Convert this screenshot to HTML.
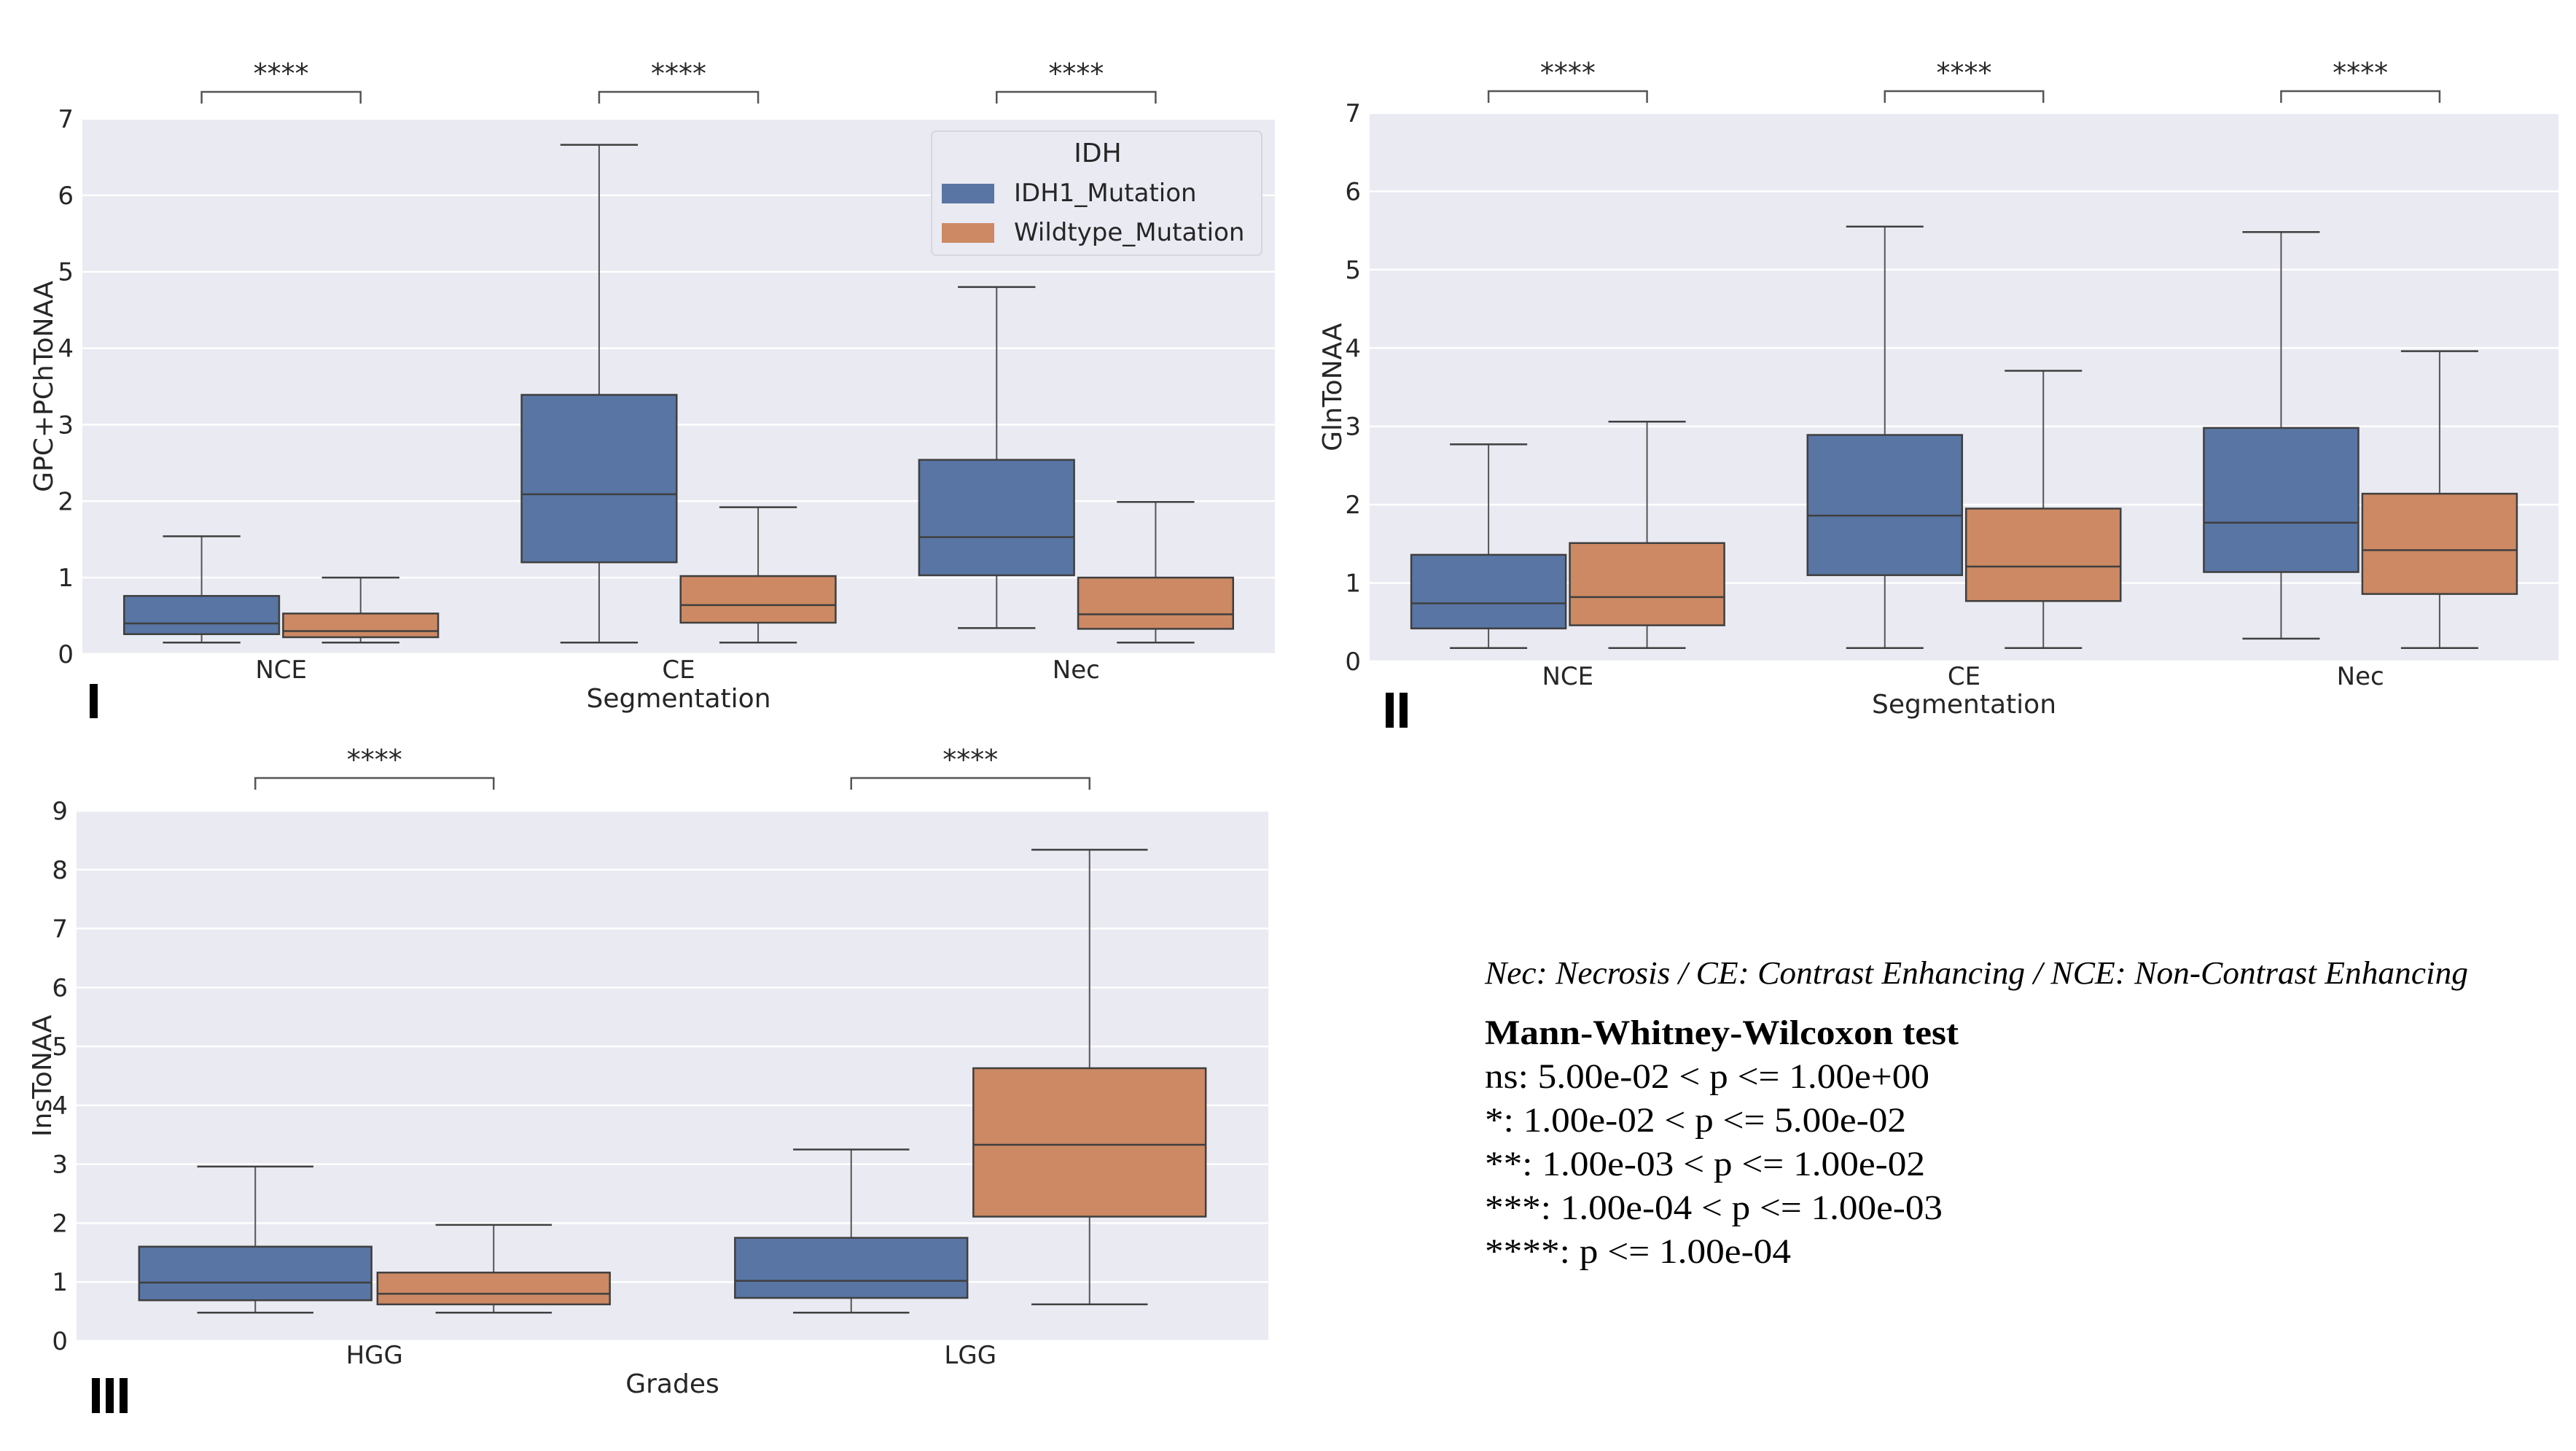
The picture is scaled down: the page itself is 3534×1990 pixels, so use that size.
<!DOCTYPE html>
<html><head><meta charset="utf-8">
<style>
html,body{margin:0;padding:0;background:#fff;}
svg{display:block;}
text{font-family:"DejaVu Sans","Liberation Sans",sans-serif;fill:#262626;}
.serif{font-family:"Liberation Serif",serif;fill:#000;}
</style></head>
<body>
<svg id="fig" width="3534" height="1990" viewBox="0 0 3534 1990" xmlns="http://www.w3.org/2000/svg">
<g id="p1"></g>
<g id="p2"></g>
<g id="p3"></g>
<g>
<rect x="1278" y="180" width="453" height="170" rx="6" fill="#eaeaf2" stroke="#d6d6de" stroke-width="2"/>
<text x="1506" y="222" font-size="36" text-anchor="middle">IDH</text>
<rect x="1292" y="252" width="72" height="27" fill="#5875a4"/>
<text x="1391" y="276" font-size="34">IDH1_Mutation</text>
<rect x="1292" y="306" width="72" height="27" fill="#cc8963"/>
<text x="1391" y="330" font-size="34">Wildtype_Mutation</text>
</g>
<g>
<rect x="123" y="938" width="11" height="47" fill="#000"/>
<rect x="1901" y="950" width="11" height="48" fill="#000"/>
<rect x="1920" y="950" width="11" height="48" fill="#000"/>
<rect x="126" y="1890" width="11" height="48" fill="#000"/>
<rect x="145" y="1890" width="11" height="48" fill="#000"/>
<rect x="164" y="1890" width="11" height="48" fill="#000"/>
</g>
<g>
<text class="serif" x="2037" y="1349" font-size="44" font-style="italic" textLength="1349" lengthAdjust="spacingAndGlyphs">Nec: Necrosis / CE: Contrast Enhancing  / NCE: Non-Contrast Enhancing</text>
<text class="serif" x="2037" y="1432" font-size="48" font-weight="bold" textLength="650" lengthAdjust="spacingAndGlyphs">Mann-Whitney-Wilcoxon test</text>
<text class="serif" x="2037" y="1492" font-size="48" textLength="610" lengthAdjust="spacingAndGlyphs">ns: 5.00e-02 &lt; p &lt;= 1.00e+00</text>
<text class="serif" x="2037" y="1552" font-size="48" textLength="578" lengthAdjust="spacingAndGlyphs">*: 1.00e-02 &lt; p &lt;= 5.00e-02</text>
<text class="serif" x="2037" y="1612" font-size="48" textLength="604" lengthAdjust="spacingAndGlyphs">**: 1.00e-03 &lt; p &lt;= 1.00e-02</text>
<text class="serif" x="2037" y="1672" font-size="48" textLength="628" lengthAdjust="spacingAndGlyphs">***: 1.00e-04 &lt; p &lt;= 1.00e-03</text>
<text class="serif" x="2037" y="1732" font-size="48" textLength="420" lengthAdjust="spacingAndGlyphs">****: p &lt;= 1.00e-04</text>
</g>
</svg>
<script>
// Panel I data
const p1Categories = ["NCE", "CE", "Nec"];
const p1Ticks = [0, 1, 2, 3, 4, 5, 6, 7];
const p1IdhLow = [0.15, 0.15, 0.34];
const p1IdhQ1 = [0.26, 1.20, 1.03];
const p1IdhMed = [0.40, 2.09, 1.53];
const p1IdhQ3 = [0.76, 3.39, 2.54];
const p1IdhHigh = [1.54, 6.66, 4.80];
const p1WtLow = [0.15, 0.15, 0.15];
const p1WtQ1 = [0.22, 0.41, 0.33];
const p1WtMed = [0.30, 0.64, 0.52];
const p1WtQ3 = [0.53, 1.02, 1.00];
const p1WtHigh = [1.00, 1.92, 1.99];
const p1Sig = ["****", "****", "****"];
// Panel II data
const p2Categories = ["NCE", "CE", "Nec"];
const p2Ticks = [0, 1, 2, 3, 4, 5, 6, 7];
const p2IdhLow = [0.17, 0.17, 0.29];
const p2IdhQ1 = [0.42, 1.10, 1.14];
const p2IdhMed = [0.74, 1.86, 1.77];
const p2IdhQ3 = [1.36, 2.89, 2.98];
const p2IdhHigh = [2.77, 5.55, 5.48];
const p2WtLow = [0.17, 0.17, 0.17];
const p2WtQ1 = [0.46, 0.77, 0.86];
const p2WtMed = [0.82, 1.21, 1.42];
const p2WtQ3 = [1.51, 1.95, 2.14];
const p2WtHigh = [3.06, 3.71, 3.96];
const p2Sig = ["****", "****", "****"];
// Panel III data
const p3Categories = ["HGG", "LGG"];
const p3Ticks = [0, 1, 2, 3, 4, 5, 6, 7, 8, 9];
const p3IdhLow = [0.48, 0.48];
const p3IdhQ1 = [0.69, 0.73];
const p3IdhMed = [0.99, 1.02];
const p3IdhQ3 = [1.60, 1.75];
const p3IdhHigh = [2.96, 3.25];
const p3WtLow = [0.48, 0.62];
const p3WtQ1 = [0.62, 2.11];
const p3WtMed = [0.80, 3.33];
const p3WtQ3 = [1.16, 4.63];
const p3WtHigh = [1.97, 8.34];
const p3Sig = ["****", "****"];

const NS = "http://www.w3.org/2000/svg";
function mk(parent, tag, attrs, txt) {
  const e = document.createElementNS(NS, tag);
  for (const k in attrs) e.setAttribute(k, attrs[k]);
  if (txt !== undefined) e.textContent = txt;
  parent.appendChild(e);
  return e;
}

function drawPanel(g, cfg) {
  const {x0, x1, yTop, yBot, ymax, cats, ticks, idh, wt, sig, ylabel, ylabelX, xlabel, xlabelY, tickY, brY} = cfg;
  const n = cats.length;
  const band = (x1 - x0) / n;
  const xC = i => x0 + band * (i + 0.5);
  const yS = v => yBot - (v / ymax) * (yBot - yTop);
  let e = mk(g, "rect", {x: x0, y: yTop, width: x1 - x0, height: yBot - yTop, fill: "#eaeaf2"});
  
  
  ticks.forEach(t => {
    e = mk(g, "line", {x1: x0, x2: x1, y1: yS(t), y2: yS(t), stroke: "#fff", "stroke-width": 2.5});
    
    
    e = mk(g, "text", {x: x0 - 12, y: yS(t) + 12, "font-size": 34, "text-anchor": "end"}, String(t));
    
    
  });
  const bw = band * 0.39, off = band * 0.2;
  const series = [[idh, "#5875a4", -off, "idh1"], [wt, "#cc8963", off, "wildtype"]];
  cats.forEach((c, i) => {
    series.forEach(([s, col, o, nm]) => {
      const cx = xC(i) + o;
      const [lo, q1, md, q3, hi] = s.map(a => a[i]);
      const bx = mk(g, "g", {});
      
      
      const wl = {stroke: "#555", "stroke-width": 2};
      const ln = {stroke: "#3f3f3f", "stroke-width": 2.5};
      mk(bx, "line", Object.assign({x1: cx, x2: cx, y1: yS(hi), y2: yS(q3)}, wl));
      mk(bx, "line", Object.assign({x1: cx, x2: cx, y1: yS(q1), y2: yS(lo)}, wl));
      mk(bx, "line", Object.assign({x1: cx - bw / 4, x2: cx + bw / 4, y1: yS(hi), y2: yS(hi)}, ln));
      mk(bx, "line", Object.assign({x1: cx - bw / 4, x2: cx + bw / 4, y1: yS(lo), y2: yS(lo)}, ln));
      mk(bx, "rect", {x: cx - bw / 2, y: yS(q3), width: bw, height: yS(q1) - yS(q3), fill: col, stroke: "#3f3f3f", "stroke-width": 2.5});
      mk(bx, "line", Object.assign({x1: cx - bw / 2, x2: cx + bw / 2, y1: yS(md), y2: yS(md)}, ln));
    });
    e = mk(g, "text", {x: xC(i), y: tickY, "font-size": 34, "text-anchor": "middle"}, c);
    
    
    const bl = xC(i) - off, br = xC(i) + off;
    e = mk(g, "path", {d: `M${bl},${brY + 16} L${bl},${brY} L${br},${brY} L${br},${brY + 16}`, fill: "none", stroke: "#555", "stroke-width": 2.5});
    
    
    e = mk(g, "text", {x: xC(i), y: brY - 12, "font-size": 38, "text-anchor": "middle"}, sig[i]);
    
    
  });
  e = mk(g, "text", {x: ylabelX, y: (yTop + yBot) / 2, "font-size": 36, "text-anchor": "middle", transform: `rotate(-90 ${ylabelX} ${(yTop + yBot) / 2})`}, ylabel);
  
  
  if (xlabel) {
    e = mk(g, "text", {x: (x0 + x1) / 2, y: xlabelY, "font-size": 36, "text-anchor": "middle"}, xlabel);
    
    
  }
}

drawPanel(document.getElementById("p1"), {x0: 113, x1: 1749, yTop: 163, yBot: 897, ymax: 7,
  cats: p1Categories, ticks: p1Ticks,
  idh: [p1IdhLow, p1IdhQ1, p1IdhMed, p1IdhQ3, p1IdhHigh],
  wt: [p1WtLow, p1WtQ1, p1WtMed, p1WtQ3, p1WtHigh],
  sig: p1Sig, ylabel: "GPC+PChToNAA", ylabelX: 72, xlabel: "Segmentation", xlabelY: 970, tickY: 930, brY: 126});
drawPanel(document.getElementById("p2"), {x0: 1879, x1: 3510, yTop: 155, yBot: 907, ymax: 7,
  cats: p2Categories, ticks: p2Ticks,
  idh: [p2IdhLow, p2IdhQ1, p2IdhMed, p2IdhQ3, p2IdhHigh],
  wt: [p2WtLow, p2WtQ1, p2WtMed, p2WtQ3, p2WtHigh],
  sig: p2Sig, ylabel: "GlnToNAA", ylabelX: 1840, xlabel: "Segmentation", xlabelY: 978, tickY: 939, brY: 125});
drawPanel(document.getElementById("p3"), {x0: 105, x1: 1740, yTop: 1112, yBot: 1839, ymax: 9,
  cats: p3Categories, ticks: p3Ticks,
  idh: [p3IdhLow, p3IdhQ1, p3IdhMed, p3IdhQ3, p3IdhHigh],
  wt: [p3WtLow, p3WtQ1, p3WtMed, p3WtQ3, p3WtHigh],
  sig: p3Sig, ylabel: "InsToNAA", ylabelX: 70, xlabel: "Grades", xlabelY: 1910, tickY: 1870, brY: 1067});
</script>
</body></html>
